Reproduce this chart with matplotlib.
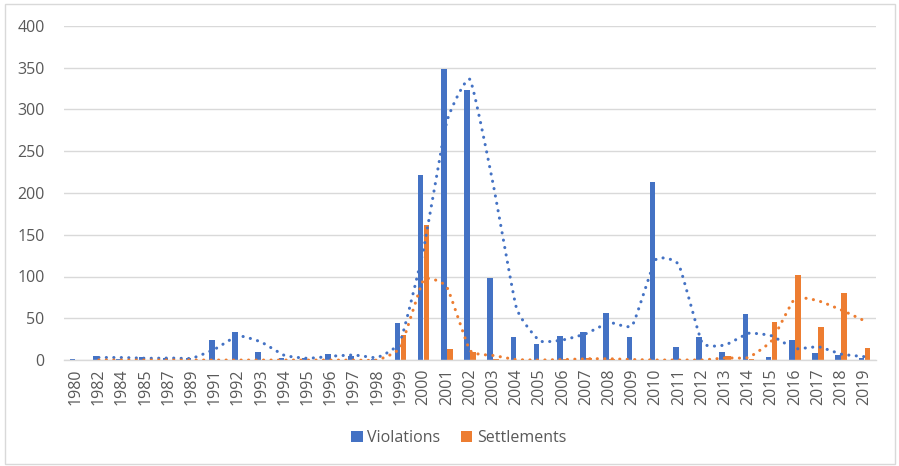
import numpy as np
import matplotlib
matplotlib.use("Agg")
import matplotlib.pyplot as plt
from matplotlib.patches import Rectangle

years = ['1980', '1982', '1984', '1985', '1987', '1989', '1991', '1992', '1993',
         '1994', '1995', '1996', '1997', '1998', '1999', '2000', '2001', '2002',
         '2003', '2004', '2005', '2006', '2007', '2008', '2009', '2010', '2011',
         '2012', '2013', '2014', '2015', '2016', '2017', '2018', '2019']
violations = [1, 5, 1, 3, 2, 2, 24, 34, 9, 2, 2, 7, 5, 1, 44, 222, 349, 323,
              98, 27, 19, 29, 34, 56, 27, 213, 15, 27, 9, 55, 3, 24, 8, 6, 2]
settlements = [0, 0, 0, 0, 0, 0, 0, 0, 0, 0, 0, 0, 0, 0, 30, 162, 13, 10,
               1, 0, 0, 1, 2, 1, 0, 0, 0, 0, 5, 1, 45, 102, 40, 80, 14]
y_ticks = [0, 50, 100, 150, 200, 250, 300, 350, 400]

BLUE = '#4472C4'
ORANGE = '#ED7D31'
GRID = '#D9D9D9'
TEXT = '#595959'

plt.rcParams['font.family'] = ['Open Sans', 'DejaVu Sans']

fig = plt.figure(figsize=(8.99, 4.66), dpi=100)
fig.patches.append(Rectangle((5 / 899, 2 / 466), 890 / 899, 460 / 466,
                             transform=fig.transFigure, fill=False,
                             edgecolor=GRID, linewidth=1))
ax = fig.add_axes([64 / 899, 1 - 360 / 466, 812 / 899, 334 / 466])

x = np.arange(len(years))
w = 0.24
ax.bar(x - 0.13, violations, width=w, color=BLUE, label='Violations', zorder=2)
ax.bar(x + 0.13, settlements, width=w, color=ORANGE, label='Settlements', zorder=2)


def smooth(xp, yp, k=14, n=20):
    # lightly smoothed polyline through moving-average points
    xs, ys = [], []
    P = np.column_stack([xp, yp]).astype(float)
    for i in range(len(P) - 1):
        p0 = P[i - 1] if i > 0 else P[i]
        p1 = P[i]
        p2 = P[i + 1]
        p3 = P[i + 2] if i + 2 < len(P) else P[i + 1]
        c1 = p1 + (p2 - p0) / k
        c2 = p2 - (p3 - p1) / k
        t = np.linspace(0, 1, n, endpoint=(i == len(P) - 2))[:, None]
        b = ((1 - t) ** 3) * p1 + 3 * ((1 - t) ** 2) * t * c1 + 3 * (1 - t) * t ** 2 * c2 + t ** 3 * p2
        xs.extend(b[:, 0])
        ys.extend(b[:, 1])
    return np.array(xs), np.array(ys)


for vals, col in [(violations, BLUE), (settlements, ORANGE)]:
    v = np.array(vals, dtype=float)
    ma = (v[1:] + v[:-1]) / 2
    sx, sy = smooth(x[1:], ma)
    ax.plot(sx, sy, color=col, linewidth=2.2, linestyle=(0, (0.05, 2.4)),
            dash_capstyle='round', zorder=3)

ax.set_xlim(-0.5, len(years) - 0.5)
ax.set_ylim(0, 400)
ax.set_yticks(y_ticks)
ax.set_xticks(x)
ax.set_xticklabels(years, rotation=90)
ax.tick_params(axis='both', length=0, colors=TEXT, labelsize=11.5)
ax.tick_params(axis='x', pad=6)
ax.tick_params(axis='y', pad=14)
ax.grid(axis='y', color=GRID, linewidth=1, zorder=0)
for s in ['top', 'right', 'left']:
    ax.spines[s].set_visible(False)
ax.spines['bottom'].set_color(GRID)
ax.spines['bottom'].set_linewidth(1)

fig.legend(handles=ax.containers, labels=['Violations', 'Settlements'],
           loc='center', bbox_to_anchor=(459 / 899, 1 - 438 / 466), ncol=2,
           frameon=False, fontsize=11.5, labelcolor=TEXT, handlelength=0.7,
           handleheight=0.7, handletextpad=0.3, columnspacing=1.3)

fig.savefig('out.png', dpi=100)
